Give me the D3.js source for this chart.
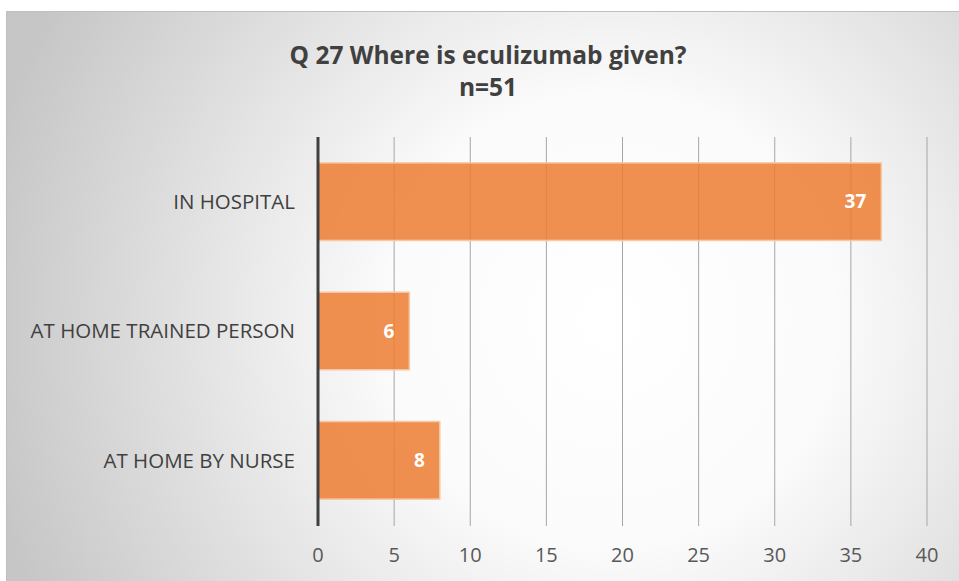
<!DOCTYPE html>
<html lang="en">
<head>
<meta charset="utf-8">
<title>Q 27 Where is eculizumab given?</title>
<script src="https://cdn.jsdelivr.net/npm/d3@7"></script>
<style>
  body { margin: 0; background: #fff; }
  text { font-family: "Open Sans", "Noto Sans", sans-serif; }
</style>
</head>
<body>
<script>
var W = 959, H = 581;
var categories = ["IN HOSPITAL", "AT HOME TRAINED PERSON", "AT HOME BY NURSE"];
var values = [37, 6, 8];
var ticks = [0, 5, 10, 15, 20, 25, 30, 35, 40];
var titleLines = ["Q 27 Where is eculizumab given?", "n=51"];

var margin = {left: 318, right: 32, top: 137, bottom: 56};

var svg = d3.select("body").append("svg")
  .attr("width", W).attr("height", H);

// background gradient like the office chart style
var defs = svg.append("defs");
var grad = defs.append("radialGradient").attr("id", "bg")
  .attr("gradientUnits", "userSpaceOnUse")
  .attr("cx", 610).attr("cy", 320).attr("r", 640);
grad.append("stop").attr("offset", "0%").attr("stop-color", "#ffffff");
grad.append("stop").attr("offset", "35%").attr("stop-color", "#fbfbfb");
grad.append("stop").attr("offset", "100%").attr("stop-color", "#c6c6c6");

svg.append("rect")
  .attr("x", 6.5).attr("y", 11.5).attr("width", W - 6).attr("height", H - 11)
  .attr("fill", "url(#bg)").attr("stroke", "#bfbfbf").attr("stroke-width", 1);

var x = d3.scaleLinear().domain([0, 40]).range([margin.left, W - margin.right]);
var y = d3.scaleBand().domain(categories)
  .range([margin.top, H - margin.bottom]).paddingInner(0.4).paddingOuter(0.2);

var plotBottom = 526;

// gridlines
svg.append("g").selectAll("line").data(ticks.slice(1)).enter().append("line")
  .attr("x1", function(d) { return x(d); })
  .attr("x2", function(d) { return x(d); })
  .attr("y1", margin.top).attr("y2", plotBottom)
  .attr("stroke", "#a6a6a6").attr("stroke-width", 1);

// bars
svg.append("g").selectAll("rect").data(values).enter().append("rect")
  .attr("x", x(0))
  .attr("y", function(d, i) { return y(categories[i]); })
  .attr("width", function(d) { return x(d) - x(0); })
  .attr("height", y.bandwidth())
  .attr("fill", "#ed7d31").attr("fill-opacity", 0.85)
  .attr("stroke", "#f6c8a6").attr("stroke-width", 1.5);

// value labels
svg.append("g").selectAll("text").data(values).enter().append("text")
  .attr("x", function(d) { return x(d) - 15; })
  .attr("y", function(d, i) { return y(categories[i]) + y.bandwidth() / 2; })
  .attr("dy", "0.35em")
  .attr("text-anchor", "end")
  .attr("fill", "#ffffff").attr("font-weight", "bold").attr("font-size", "19px")
  .text(function(d) { return d; });

// category axis line
svg.append("line")
  .attr("x1", x(0)).attr("x2", x(0))
  .attr("y1", margin.top).attr("y2", plotBottom)
  .attr("stroke", "#404040").attr("stroke-width", 3);

// category labels
svg.append("g").selectAll("text").data(categories).enter().append("text")
  .attr("x", 295)
  .attr("y", function(d) { return y(d) + y.bandwidth() / 2; })
  .attr("dy", "0.35em")
  .attr("text-anchor", "end")
  .attr("fill", "#404040").attr("font-size", "20.5px")
  .text(function(d) { return d; });

// value axis tick labels
svg.append("g").selectAll("text").data(ticks).enter().append("text")
  .attr("x", function(d) { return x(d); })
  .attr("y", 555).attr("dy", "0.35em")
  .attr("text-anchor", "middle")
  .attr("fill", "#595959").attr("font-size", "20px")
  .text(function(d) { return d; });

// title
svg.append("g").selectAll("text").data(titleLines).enter().append("text")
  .attr("x", 488)
  .attr("y", function(d, i) { return 55 + i * 32; })
  .attr("dy", "0.35em")
  .attr("text-anchor", "middle")
  .attr("fill", "#404040").attr("font-weight", "bold").attr("font-size", "24.5px")
  .text(function(d) { return d; });
</script>
</body>
</html>
